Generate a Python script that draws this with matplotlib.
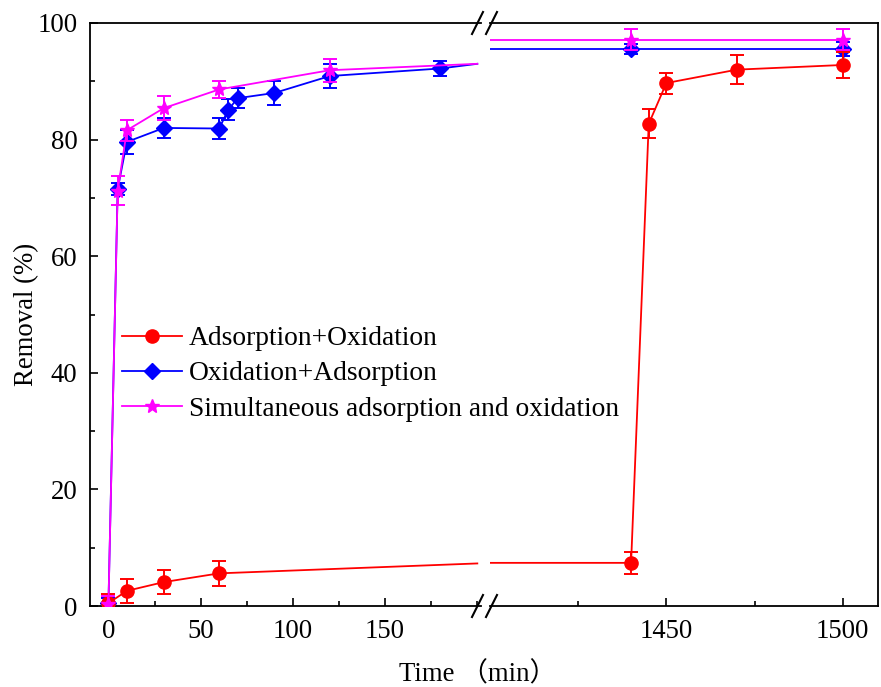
import matplotlib
matplotlib.use("Agg")
import matplotlib.pyplot as plt
from matplotlib.lines import Line2D
from matplotlib.ticker import MultipleLocator

# Removal vs time, broken time axis (0-200 min | 1400-1510 min)
red_t = [0, 10, 30, 60, 1440, 1445, 1450, 1470, 1500]
red_y = [0.5, 2.6, 4.1, 5.6, 7.4, 82.7, 89.7, 92.0, 92.8]
red_err = [1.6, 2.0, 2.0, 2.2, 1.9, 2.5, 1.8, 2.5, 2.2]

blue_t = [0, 5, 10, 30, 60, 65, 70, 90, 120, 180, 1440, 1500]
blue_y = [0.5, 71.5, 79.6, 82.0, 81.9, 85.1, 87.1, 88.0, 90.9, 92.2, 95.5, 95.5]
blue_err = [0.8, 1.0, 2.1, 1.7, 1.8, 1.8, 1.7, 2.0, 2.0, 1.3, 0.9, 1.2]

mag_t = [0, 5, 10, 30, 60, 120, 1440, 1500]
mag_y = [0.3, 71.2, 81.6, 85.4, 88.6, 91.9, 97.1, 97.1]
mag_err = [1.5, 2.5, 1.8, 2.0, 1.4, 2.0, 1.8, 1.8]

# where each curve meets the axis break (left end / right start)
BREAK_L, BREAK_R = 200, 1400
red_edge = (7.3, 7.4)
blue_edge = (93.0, 95.5)
mag_edge = (93.0, 97.1)

SERIES = [
    ("Adsorption+Oxidation", red_t, red_y, red_err, red_edge, "#FF0000", "o", 9.5, 4),
    ("Oxidation+Adsorption", blue_t, blue_y, blue_err, blue_edge, "#0000FF", "D", 8, 3),
    ("Simultaneous adsorption and oxidation", mag_t, mag_y, mag_err, mag_edge, "#FF00FF", "*", 10, 5),
]

FONT = "Liberation Serif"
FS = 19.3
plt.rcParams["font.family"] = [FONT, "Noto Sans CJK SC"]
plt.rcParams["font.size"] = FS

W, H = 881, 687
fig = plt.figure(figsize=(W / 100, H / 100), dpi=100)


def px_box(x0, x1, y0, y1):
    return [x0 / W, 1 - y1 / H, (x1 - x0) / W, (y1 - y0) / H]


ax1 = fig.add_axes(px_box(90, 481, 23, 606))
ax2 = fig.add_axes(px_box(490, 878, 23, 606))
ax2.set_facecolor("none")

handles = []
for label, t, y, err, edge, col, mk, ms, z in SERIES:
    lt = [v for v in t if v <= BREAK_L]
    ly = [y[i] for i, v in enumerate(t) if v <= BREAK_L]
    le = [err[i] for i, v in enumerate(t) if v <= BREAK_L]
    rt = [v for v in t if v >= BREAK_R]
    ry = [y[i] for i, v in enumerate(t) if v >= BREAK_R]
    re = [err[i] for i, v in enumerate(t) if v >= BREAK_R]

    h, = ax1.plot(lt + [BREAK_L], ly + [edge[0]], color=col, lw=1.3,
                  marker=mk, ms=ms, markevery=list(range(len(lt))), zorder=z,
                  label=label)
    ax1.errorbar(lt, ly, yerr=le, fmt="none", ecolor=col, elinewidth=1.4,
                 capsize=5, capthick=1.4, zorder=z)
    ax2.plot([BREAK_R] + rt, [edge[1]] + ry, color=col, lw=1.3,
             marker=mk, ms=ms, markevery=list(range(1, len(rt) + 1)), zorder=z)
    ax2.errorbar(rt, ry, yerr=re, fmt="none", ecolor=col, elinewidth=1.4,
                 capsize=5, capthick=1.4, zorder=z)
    handles.append(h)

for ax in (ax1, ax2):
    ax.set_ylim(0, 100)
    for s in ax.spines.values():
        s.set_linewidth(1.3)
    ax.tick_params(which="both", direction="in", top=False, right=False,
                   width=1.2, labelsize=FS)
    ax.tick_params(which="major", length=6)
    ax.tick_params(which="minor", length=3.5)
    ax.tick_params(axis="x", which="both", pad=9)

ax1.set_xlim(-10, 202)
ax1.set_xticks([0, 50, 100, 150])
ax1.xaxis.set_minor_locator(MultipleLocator(25))
ax1.yaxis.set_major_locator(MultipleLocator(20))
ax1.yaxis.set_minor_locator(MultipleLocator(10))
ax1.tick_params(axis="y", which="both", pad=9)
ax1.spines["right"].set_visible(False)

ax2.set_xlim(1400, 1510)
ax2.set_xticks([1450, 1500])
ax2.set_xticks([1425, 1475], minor=True)
ax2.spines["left"].set_visible(False)
ax2.tick_params(axis="y", which="both", left=False, labelleft=False)

ax1.set_ylabel("Removal (%)", fontsize=FS)
ax1.yaxis.set_label_coords((39 - 90) / 391, 0.5)
fig.text(478 / W, 1 - 675 / H, "Time （min）", ha="center", va="center",
         fontsize=FS)

# break marks "//" on top and bottom spines
for yp in (23, 606):
    for xc in (477.5, 491.5):
        fig.add_artist(Line2D([(xc - 5.5) / W, (xc + 5.5) / W],
                              [1 - (yp + 11) / H, 1 - (yp - 11) / H],
                              transform=fig.transFigure, color="black", lw=1.5))

ax1.legend(handles=handles, loc="upper left", bbox_to_anchor=(122 / W, 1 - 326 / H),
           bbox_transform=fig.transFigure, frameon=False, fontsize=19.8,
           handlelength=2.18, handletextpad=0.25, labelspacing=0.36,
           borderpad=0, borderaxespad=0)

fig.savefig("out.png", dpi=100)
